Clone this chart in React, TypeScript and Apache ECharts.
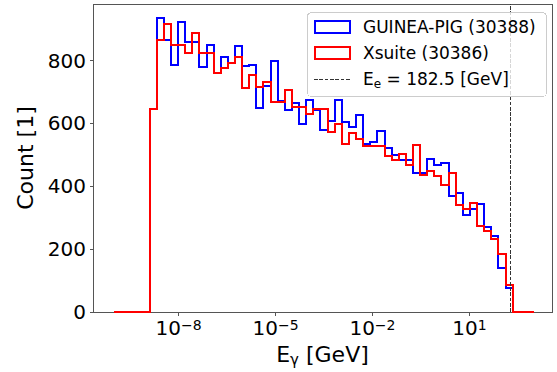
import React, { useEffect, useRef } from "react";
import * as echarts from "echarts";

const FONT = "DejaVu Sans";

// Histogram binning: 59 log-uniform bins from 1e-10 to 1e3 GeV (edges in log10 space)
const BIN_LOG_MIN = -10;
const BIN_LOG_MAX = 3;
const N_BINS = 59;

// Counts per bin
const guineaPigCounts = [
  0, 0, 0, 0, 0,
  645, 936, 867, 786, 924, 858, 858, 780, 849, 762,
  812, 793, 846, 782, 786, 650, 720, 798, 672, 642,
  665, 597, 675, 643, 579, 607, 674, 604, 588, 627,
  535, 541, 575, 521, 499, 485, 485, 441, 441, 488,
  469, 475, 368, 379, 310, 329, 345, 269, 241, 140, 75,
  0, 0, 0,
];
const xsuiteCounts = [
  0, 0, 0, 0, 0,
  645, 867, 915, 851, 851, 824, 887, 825, 825, 762,
  777, 791, 811, 714, 754, 717, 733, 668, 668, 707,
  653, 653, 631, 645, 645, 573, 597, 536, 569, 550,
  527, 527, 527, 495, 483, 502, 469, 531, 435, 449,
  432, 403, 443, 340, 329, 347, 273, 257, 231, 186, 85,
  0, 0, 0,
];

const seriesNames = ["GUINEA-PIG (30388)", "Xsuite (30386)"];
const seriesColors = ["#0000ff", "#ff0000"];

const xTickExponents = [-8, -5, -2, 1];
const yTickValues = [0, 200, 400, 600, 800];
const X_LOG_MIN = -10.65;
const X_LOG_MAX = 3.557;
const Y_MAX = 980;
const BEAM_ENERGY = 182.5;
const beamLabel = "= 182.5 [GeV]";

function stepPoints(counts: number[]) {
  const edges: number[] = [];
  for (let i = 0; i <= N_BINS; i++) {
    edges.push(BIN_LOG_MIN + ((BIN_LOG_MAX - BIN_LOG_MIN) * i) / N_BINS);
  }
  const pts: number[][] = [[edges[0], 0]];
  counts.forEach((c, i) => {
    pts.push([edges[i], c]);
    pts.push([edges[i + 1], c]);
  });
  pts.push([edges[N_BINS], 0]);
  return pts;
}

function fmtExp(v: number) {
  const n = Math.round(v);
  return n < 0 ? "\u2212" + Math.abs(n) : String(n);
}

export default function App() {
  const ref = useRef<HTMLDivElement>(null);
  useEffect(() => {
    document.body.style.margin = "0";
    if (!ref.current) return;
    const chart = echarts.init(ref.current, undefined, { renderer: "svg" });
    const axisColor = "#555";
    const legendX = 307.5;
    const legendY = 12.5;
    const option: any = {
      animation: false,
      grid: {
        left: 93,
        right: 5,
        top: 4,
        bottom: 60,
        show: true,
        borderColor: axisColor,
        borderWidth: 1,
      },
      xAxis: {
        type: "value",
        min: X_LOG_MIN,
        max: X_LOG_MAX,
        name: "{a|E}{g|\u03b3}{a| [GeV]}",
        nameLocation: "middle",
        nameGap: 31,
        nameTextStyle: {
          fontFamily: FONT,
          color: "#000",
          rich: {
            a: { fontSize: 22, lineHeight: 22, verticalAlign: "top", fontFamily: FONT, color: "#000" },
            g: { fontSize: 15, lineHeight: 33, fontFamily: FONT, color: "#000" },
          },
        },
        axisLine: { show: true, onZero: false, lineStyle: { color: axisColor, width: 1 } },
        axisTick: { show: true, customValues: xTickExponents, length: 3.5, lineStyle: { color: axisColor } },
        axisLabel: {
          customValues: xTickExponents,
          margin: 6,
          formatter: (v: number) => `{b|10}{s|${fmtExp(v)}}`,
          rich: {
            b: { fontSize: 20, lineHeight: 20, verticalAlign: "bottom", fontFamily: FONT, color: "#000" },
            s: { fontSize: 14, lineHeight: 12, verticalAlign: "top", fontFamily: FONT, color: "#000" },
          },
        },
        splitLine: { show: false },
      },
      yAxis: {
        type: "value",
        min: 0,
        max: Y_MAX,
        name: "Count [1]",
        nameLocation: "middle",
        nameGap: 51,
        nameTextStyle: { fontSize: 22, color: "#000", fontFamily: FONT },
        axisLine: { show: true, onZero: false, lineStyle: { color: axisColor, width: 1 } },
        axisTick: { show: true, customValues: yTickValues, length: 3.5, lineStyle: { color: axisColor } },
        axisLabel: {
          customValues: yTickValues,
          fontSize: 20,
          color: "#000",
          fontFamily: FONT,
          margin: 7,
        },
        splitLine: { show: false },
      },
      series: [
        {
          name: seriesNames[0],
          type: "line",
          data: stepPoints(guineaPigCounts),
          symbol: "none",
          lineStyle: { color: seriesColors[0], width: 2, join: "miter", cap: "butt" },
          z: 2,
        },
        {
          name: seriesNames[1],
          type: "line",
          data: stepPoints(xsuiteCounts),
          symbol: "none",
          lineStyle: { color: seriesColors[1], width: 2, join: "miter", cap: "butt" },
          z: 3,
          markLine: {
            silent: true,
            symbol: "none",
            label: { show: false },
            lineStyle: { color: "#333", width: 1, type: [3.7, 1.6] },
            data: [{ xAxis: Math.log10(BEAM_ENERGY) }],
          },
        },
      ],
      graphic: [
        {
          type: "rect",
          z: 100,
          shape: { x: legendX, y: legendY, width: 239, height: 84, r: 4 },
          style: { fill: "rgba(255,255,255,0.8)", stroke: "#cccccc", lineWidth: 1 },
        },
        {
          type: "rect",
          z: 101,
          shape: { x: 314.5, y: 20.5, width: 35, height: 12 },
          style: { fill: "none", stroke: seriesColors[0], lineWidth: 2 },
        },
        {
          type: "text",
          z: 101,
          x: 363,
          y: 27,
          style: { text: seriesNames[0], fontSize: 17, fontFamily: FONT, fill: "#000", verticalAlign: "middle" },
        },
        {
          type: "rect",
          z: 101,
          shape: { x: 314.5, y: 46.5, width: 35, height: 12 },
          style: { fill: "none", stroke: seriesColors[1], lineWidth: 2 },
        },
        {
          type: "text",
          z: 101,
          x: 363,
          y: 52.7,
          style: { text: seriesNames[1], fontSize: 17, fontFamily: FONT, fill: "#000", verticalAlign: "middle" },
        },
        {
          type: "line",
          z: 101,
          shape: { x1: 314, y1: 79.5, x2: 350, y2: 79.5 },
          style: { stroke: "#333", lineWidth: 1, lineDash: [3.7, 1.6] },
        },
        {
          type: "text",
          z: 101,
          x: 363,
          y: 84.2,
          style: {
            text: `{a|E}{s|e}{a| ${beamLabel}}`,
            fontFamily: FONT,
            fill: "#000",
            verticalAlign: "middle",
            rich: {
              a: { fontSize: 17, lineHeight: 17, verticalAlign: "top", fontFamily: FONT, fill: "#000" },
              s: { fontSize: 12, lineHeight: 28, fontFamily: FONT, fill: "#000" },
            },
          },
        },
      ],
    };
    chart.setOption(option);
    const svg = ref.current.querySelector("svg");
    if (svg) (svg as SVGElement).style.shapeRendering = "crispEdges";
    return () => chart.dispose();
  }, []);
  return <div ref={ref} style={{ width: 557, height: 372, position: "absolute", left: 0, top: 0 }} />;
}
